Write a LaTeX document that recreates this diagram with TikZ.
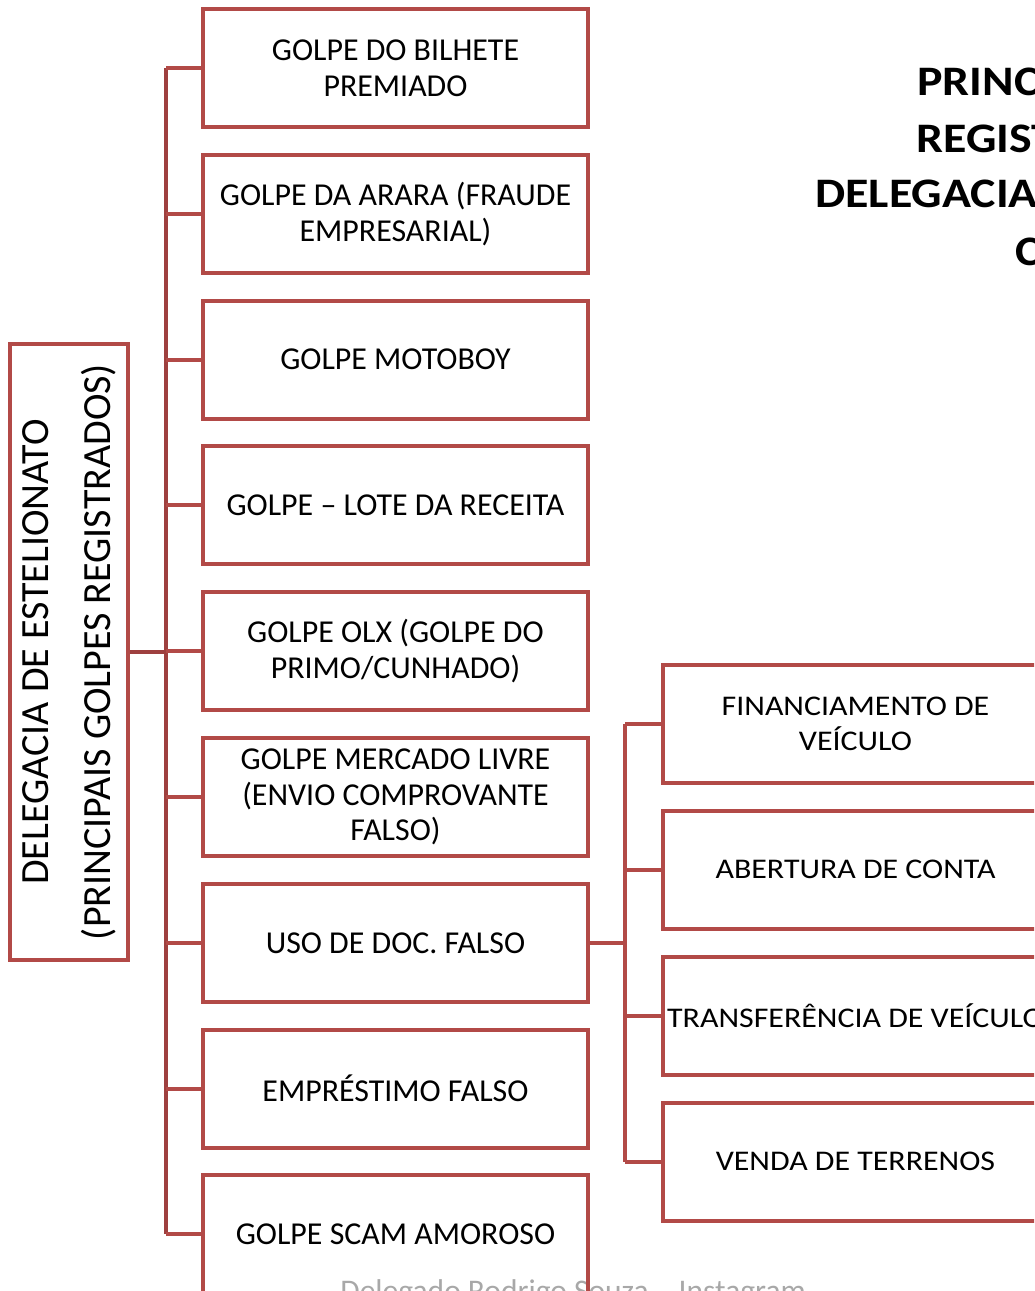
\documentclass[tikz,border=0pt]{standalone}
\usepackage{fontspec}
\setmainfont{Carlito}
\newfontfamily\widefont[FakeStretch=1.12]{Carlito}
\newfontfamily\titlefont[FakeStretch=1.14]{Carlito}
\usetikzlibrary{positioning}

\definecolor{boxred}{HTML}{B24A47}
\definecolor{trunkred}{HTML}{9E403F}
\definecolor{markgray}{HTML}{A8A8A8}

\begin{document}
\begin{tikzpicture}[x=0.5pt,y=-0.5pt,
    golpe/.style={draw=boxred,line width=2pt,minimum width=192.5pt,minimum height=59pt,
        inner sep=0pt,align=center,font=\fontsize{15.95pt}{17.8pt}\selectfont},
    tipo/.style={golpe,font=\widefont\fontsize{14.25pt}{17.5pt}\selectfont},
    titulo/.style={anchor=base west,inner sep=0pt,font=\titlefont\bfseries\fontsize{21pt}{29pt}\selectfont},
    link/.style={draw=boxred,line width=2pt},
    trunk/.style={draw=trunkred,line width=2pt}]
    \useasboundingbox (0,0) rectangle (1034,1291);
    \clip (0,0) rectangle (1034,1291);

    % marca d'agua
    \node[anchor=base west,inner sep=0pt,text=markgray,font=\fontsize{15.75pt}{17pt}\selectfont] (marca) at (340,1301)
        {Delegado Rodrigo Souza -- Instagram};

    % titulo (cortado na borda)
    \node[titulo] (t1) at (917,95) {PRINC};
    \node[titulo] (t2) at (916,152) {REGIST};
    \node[titulo] (t3) at (815,207) {DELEGACIA};
    \node[titulo] (t4) at (1015,265) {C};

    % raiz
    \node[draw=boxred,line width=2pt,rotate=90,minimum width=308pt,minimum height=59pt,inner sep=0pt,
        align=center,font=\fontsize{20pt}{31pt}\selectfont] (raiz) at (69,652)
        {DELEGACIA DE ESTELIONATO\\(PRINCIPAIS GOLPES REGISTRADOS)};

    % golpes
    \node[golpe] (g1) at (395.5,68) {GOLPE DO BILHETE\\PREMIADO};
    \node[golpe] (g2) at (395.5,213.8) {GOLPE DA ARARA (FRAUDE\\EMPRESARIAL)};
    \node[golpe] (g3) at (395.5,359.6) {GOLPE MOTOBOY};
    \node[golpe] (g4) at (395.5,505.4) {GOLPE -- LOTE DA RECEITA};
    \node[golpe] (g5) at (395.5,651.2) {GOLPE OLX (GOLPE DO\\PRIMO/CUNHADO)};
    \node[golpe] (g6) at (395.5,797) {GOLPE MERCADO LIVRE\\(ENVIO COMPROVANTE\\FALSO)};
    \node[golpe] (g7) at (395.5,942.8) {USO DE DOC. FALSO};
    \node[golpe] (g8) at (395.5,1088.6) {EMPRÉSTIMO FALSO};
    \node[golpe] (g9) at (395.5,1234.4) {GOLPE SCAM AMOROSO};

    % usos do documento falso
    \node[tipo] (d1) at (855.5,723.5) {FINANCIAMENTO DE\\VEÍCULO};
    \node[tipo] (d2) at (855.5,869.5) {ABERTURA DE CONTA};
    \node[tipo] (d3) at (855.5,1015.5) {\makebox[0pt]{TRANSFERÊNCIA DE VEÍCULO}};
    \node[tipo] (d4) at (855.5,1161.5) {VENDA DE TERRENOS};

    % ligacoes
    \coordinate (eixo) at (166,0);
    \coordinate (eixo2) at (625,0);
    \draw[trunk] (raiz.south -| eixo) -- (raiz.south);
    \draw[trunk] (g1.west -| eixo) -- (g9.west -| eixo);
    \foreach \i in {1,...,9}
        \draw[link] (g\i.west -| eixo) -- (g\i.west);
    \draw[link] (g7.east) -- (g7.east -| eixo2);
    \draw[link] (d1.west -| eixo2) -- (d4.west -| eixo2);
    \foreach \i in {1,...,4}
        \draw[link] (d\i.west -| eixo2) -- (d\i.west);
\end{tikzpicture}
\end{document}
